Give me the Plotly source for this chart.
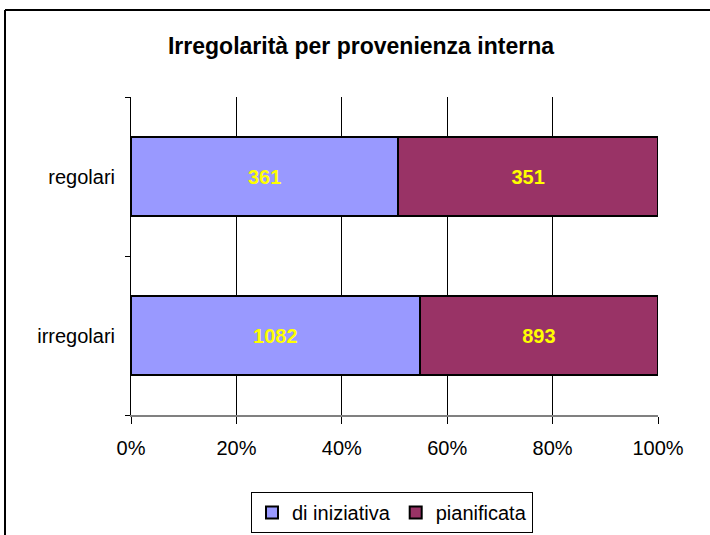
import plotly.graph_objects as go

categories = ["irregolari", "regolari"]
di_iniziativa = [1082, 361]
pianificata = [893, 351]
series_names = ["di iniziativa", "pianificata"]
x_ticks = [0, 20, 40, 60, 80, 100]
x_tick_labels = ["0%", "20%", "40%", "60%", "80%", "100%"]

FONT = "Arial, Liberation Sans, sans-serif"

fig = go.Figure()
for name, vals, color in [(series_names[0], di_iniziativa, "#9999FF"),
                          (series_names[1], pianificata, "#993366")]:
    fig.add_trace(go.Bar(
        y=categories, x=vals, name=name, orientation="h",
        marker=dict(color=color, line=dict(color="black", width=2)),
        text=[str(v) for v in vals], texttemplate="%{text}",
        textposition="inside", insidetextanchor="middle",
        textfont=dict(color="#FFFF00", size=20, family=FONT, weight="bold"),
        width=0.5,
    ))

L, R, T, B = 131, 52, 97, 120
W, H = 710, 535
pw, ph = W - L - R, H - T - B

bx0 = (5 - L) / pw
bx1 = (W + 20 - L) / pw
by0 = (H - B - (H + 20)) / ph
by1 = (H - B - 10) / ph
border = dict(color="black", width=2)

fig.update_layout(
    barmode="stack", barnorm="percent",
    width=W, height=H,
    margin=dict(l=L, r=R, t=T, b=B, autoexpand=False),
    paper_bgcolor="white", plot_bgcolor="white",
    font=dict(family=FONT, size=20, color="black"),
    title=dict(text="Irregolarità per provenienza interna",
               x=361 / W, xanchor="center", y=1 - 46 / H, yanchor="middle",
               font=dict(size=23, weight="bold", family=FONT)),
    showlegend=True,
    legend=dict(orientation="h", x=(392 - L) / pw, xanchor="center",
                y=(H - B - 492) / ph, yanchor="top",
                bordercolor="black", borderwidth=1, font=dict(size=20),
                traceorder="normal", itemwidth=30, tracegroupgap=0),
    bargap=0.5,
    shapes=[
        dict(type="line", xref="paper", yref="paper",
             x0=bx0, x1=bx0, y0=by0, y1=by1, line=border, layer="below"),
        dict(type="line", xref="paper", yref="paper",
             x0=bx0, x1=bx1, y0=by1, y1=by1, line=border, layer="below"),
    ],
)
fig.update_xaxes(range=[0, 100], tickvals=x_ticks, ticktext=x_tick_labels,
                 showgrid=True, gridcolor="black", gridwidth=1,
                 showline=True, linecolor="#808080", linewidth=2,
                 ticks="outside", ticklen=7, tickcolor="black",
                 ticklabelstandoff=7,
                 zeroline=False, tickfont=dict(size=20))
fig.update_yaxes(showgrid=False, showline=True, linecolor="black", linewidth=1,
                 ticks="outside", tickson="boundaries", ticklen=5,
                 tickcolor="black", ticklabelstandoff=11, tickfont=dict(size=20))

fig.write_html("out.html", config={"displayModeBar": False},
               post_script="document.body.style.margin='0';document.body.style.overflow='hidden';")
